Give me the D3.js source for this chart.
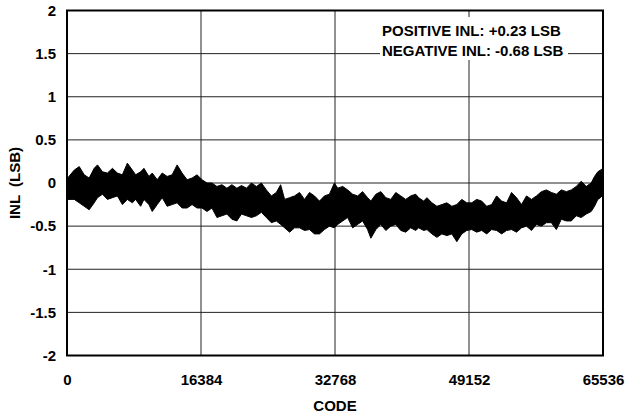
<!DOCTYPE html>
<html>
<head>
<meta charset="utf-8">
<script src="https://cdn.jsdelivr.net/npm/d3@7"></script>
<style>
  html, body { margin: 0; padding: 0; background: #fff; }
  svg { display: block; }
  text { font-family: "Liberation Sans", Arial, sans-serif; font-weight: bold; fill: #000; }
</style>
</head>
<body>
<svg id="chart" width="626" height="417"></svg>
<script>
// ---- data (envelope of the INL trace) ----
const codes = [0, 77, 888, 1497, 2105, 2714, 3322, 3728, 4337, 4945, 5554, 6162, 6771, 7379, 7988, 8394, 9002, 9408, 10016, 10422, 11031, 11639, 12248, 12856, 13465, 14073, 14682, 15290, 15899, 16507, 17116, 17724, 18333, 18941, 19550, 20158, 20767, 21334, 21943, 22551, 23160, 23768, 24377, 24985, 25594, 26121, 26608, 27217, 27825, 28434, 29042, 29651, 30259, 30868, 31476, 32085, 32694, 33099, 33708, 34316, 34925, 35533, 36142, 36751, 37156, 37765, 38373, 38982, 39590, 40199, 40807, 41416, 42024, 42633, 42997, 43606, 44011, 44620, 45228, 45837, 46445, 47054, 47663, 48271, 48880, 49488, 50097, 50705, 51314, 51922, 52531, 53139, 53748, 54357, 54965, 55574, 56182, 56791, 57399, 58008, 58616, 59225, 59834, 60442, 61051, 61659, 62268, 62876, 63485, 64093, 64499, 64905, 65230, 65536];
const inlUpper = [0.04, 0.057, 0.15, 0.19, 0.095, 0.057, 0.17, 0.21, 0.13, 0.115, 0.17, 0.115, 0.095, 0.23, 0.15, 0.095, 0.13, 0.17, 0.076, 0.115, 0.038, 0.115, 0.076, 0.095, 0.21, 0.115, 0.038, 0.057, 0.095, 0.038, 0, 0, -0.04, -0.02, -0.06, -0.02, -0.06, -0.03, -0.06, 0, -0.04, 0, -0.08, -0.15, -0.11, -0.02, -0.19, -0.17, -0.15, -0.11, -0.19, -0.11, -0.15, -0.21, -0.15, -0.13, 0, -0.06, -0.04, -0.08, -0.13, -0.15, -0.10, -0.17, -0.21, -0.13, -0.10, -0.17, -0.19, -0.11, -0.15, -0.19, -0.15, -0.13, -0.17, -0.21, -0.17, -0.23, -0.27, -0.25, -0.23, -0.27, -0.25, -0.19, -0.23, -0.23, -0.19, -0.21, -0.27, -0.25, -0.15, -0.21, -0.23, -0.11, -0.17, -0.25, -0.15, -0.19, -0.15, -0.10, -0.08, -0.11, -0.13, -0.08, -0.10, -0.08, -0.04, 0.02, -0.04, 0, 0.076, 0.13, 0.15, 0.17];
const inlLower = [-0.17, -0.19, -0.19, -0.23, -0.27, -0.31, -0.23, -0.17, -0.13, -0.19, -0.17, -0.15, -0.25, -0.19, -0.23, -0.19, -0.27, -0.19, -0.25, -0.33, -0.25, -0.17, -0.27, -0.25, -0.23, -0.29, -0.29, -0.25, -0.29, -0.29, -0.33, -0.29, -0.40, -0.38, -0.36, -0.42, -0.44, -0.36, -0.38, -0.40, -0.38, -0.34, -0.40, -0.46, -0.44, -0.48, -0.52, -0.57, -0.52, -0.52, -0.55, -0.54, -0.59, -0.59, -0.54, -0.50, -0.52, -0.48, -0.44, -0.40, -0.52, -0.48, -0.44, -0.54, -0.64, -0.54, -0.48, -0.55, -0.50, -0.48, -0.55, -0.57, -0.52, -0.55, -0.52, -0.55, -0.54, -0.59, -0.63, -0.59, -0.61, -0.59, -0.68, -0.59, -0.55, -0.54, -0.57, -0.55, -0.59, -0.54, -0.55, -0.59, -0.55, -0.54, -0.57, -0.52, -0.50, -0.55, -0.48, -0.50, -0.46, -0.46, -0.54, -0.42, -0.44, -0.44, -0.38, -0.40, -0.36, -0.33, -0.27, -0.19, -0.17, -0.14];
const xTicks = [0, 16384, 32768, 49152, 65536];
const yTicks = [-2, -1.5, -1, -0.5, 0, 0.5, 1, 1.5, 2];
const legendLines = ["POSITIVE INL: +0.23 LSB", "NEGATIVE INL: -0.68 LSB"];
const xTitle = "CODE";
const yTitle = "INL  (LSB)";

const svg = d3.select("#chart");
const L = 67, R = 603, T = 10.5, B = 355.5;
const x = d3.scaleLinear().domain([0, 65536]).range([L, R]);
const y = d3.scaleLinear().domain([-2, 2]).range([B, T]);

// grid
const grid = svg.append("g").attr("stroke", "#222").attr("stroke-width", 1);
grid.selectAll("line.h").data(yTicks.slice(1, -1)).join("line")
  .attr("x1", L).attr("x2", R).attr("y1", d => y(d)).attr("y2", d => y(d));
grid.selectAll("line.v").data(xTicks.slice(1, -1)).join("line")
  .attr("y1", T).attr("y2", B).attr("x1", d => x(d)).attr("x2", d => x(d));

// legend box (white, hides grid)
svg.append("rect").attr("x", 380).attr("y", 17).attr("width", 188).attr("height", 43).attr("fill", "#fff");
svg.selectAll("text.leg").data(legendLines).join("text")
  .attr("class", "leg").attr("x", 382).attr("y", (d, i) => 36 + i * 20)
  .style("font-size", "15px").text(d => d);

// data band
const pts = codes.map((c, i) => ({ c, hi: inlUpper[i], lo: inlLower[i] }));
const area = d3.area().x(d => x(d.c)).y0(d => y(d.lo)).y1(d => y(d.hi));
svg.append("path").datum(pts).attr("d", area)
  .attr("fill", "#000").attr("stroke", "#000").attr("stroke-width", 1).attr("stroke-linejoin", "miter");

// frame
svg.append("rect").attr("x", L).attr("y", T).attr("width", R - L).attr("height", B - T)
  .attr("fill", "none").attr("stroke", "#000").attr("stroke-width", 2);

// axes (plain hyphen minus as in the reference)
const fmt = d => String(d);
const yAxis = d3.axisLeft(y).tickValues(yTicks).tickSize(0).tickPadding(11).tickFormat(fmt);
const gy = svg.append("g").attr("transform", `translate(${L},0)`).call(yAxis);
const xAxis = d3.axisBottom(x).tickValues(xTicks).tickSize(0).tickPadding(19).tickFormat(fmt);
const gx = svg.append("g").attr("transform", `translate(0,${B})`).call(xAxis);
[gx, gy].forEach(g => {
  g.select(".domain").remove();
  g.selectAll("text").style("font-size", "15px").style("font-family", '"Liberation Sans", Arial, sans-serif').style("font-weight", "bold").attr("fill", "#000");
});

// titles
svg.append("text").attr("x", 335).attr("y", 411).attr("text-anchor", "middle").style("font-size", "15px").text(xTitle);
svg.append("text").attr("transform", "translate(20,183) rotate(-90)").attr("text-anchor", "middle")
  .style("font-size", "15px").style("white-space", "pre").text(yTitle);
</script>
</body>
</html>
